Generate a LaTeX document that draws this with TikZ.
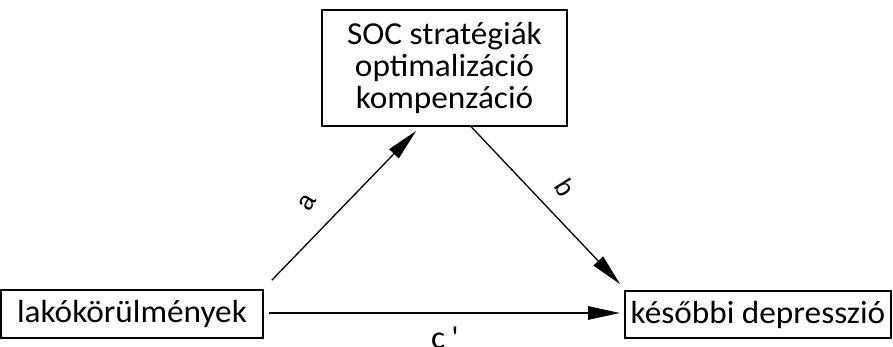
\documentclass[tikz,border=0pt]{standalone}
\usepackage{fontspec}
\setmainfont[FakeStretch=1.04]{Carlito}
\newfontfamily\lblfont{Liberation Sans}
\usetikzlibrary{arrows.meta,calc}
\tikzset{
  box/.style={draw=black, line width=1.6pt, inner sep=0pt, align=center,
    font=\fontsize{32}{32}\selectfont},
  arr/.style={line width=1.3pt, -{Triangle[length=32pt,width=13pt]}},
  thickarr/.style={line width=2.6pt, -{Triangle[length=32pt,width=13pt]}},
  lbl/.style={font=\lblfont\fontsize{26}{26}\selectfont, inner sep=0pt},
}
\begin{document}
\begin{tikzpicture}[x=1pt,y=-1pt]
\useasboundingbox (0,0) rectangle (893,346);
\begin{scope}
\clip (0,0) rectangle (893,346);
\node[box, minimum width=245pt, minimum height=116pt] (T) at (444.5,68)
  {SOC stratégiák\\optimalizáció\\kompenzáció};
\node[box, minimum width=262pt, minimum height=48pt] (L) at (132,314) {lakókörülmények};
\node[box, minimum width=266pt, minimum height=47pt] (R) at (758,314.5) {későbbi depresszió};

\draw[arr] ($(L.north east)+(8,-9)$) -- ($(T.south west)+(95,4)$);
\draw[arr] ($(T.south west)+(150,0)$) -- ($(R.north west)+(-4,-6)$);
\draw[thickarr] ($(L.east)+(5,-1)$) -- ($(R.west)+(-4,-1.5)$);

\node[lbl, rotate=58] (la) at (308,203) {a};
\node[lbl, rotate=-58] (lb) at (565,188) {b};
\node[font=\fontsize{32}{32}\selectfont, anchor=base west, inner sep=0pt] (lc) at (431,348) {c\hspace{6pt}\textquotesingle};
\end{scope}
\end{tikzpicture}
\end{document}
